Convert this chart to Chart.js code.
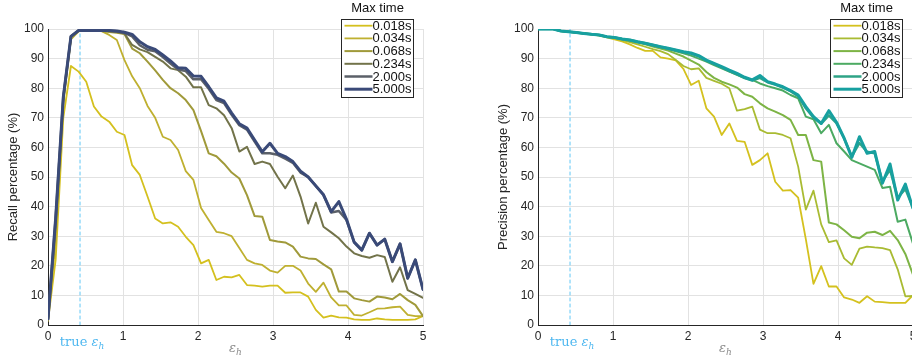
<!DOCTYPE html>
<html>
<head>
<meta charset="utf-8">
<script src="https://cdn.jsdelivr.net/npm/chart.js@4/dist/chart.umd.min.js"></script>
<style>
  html, body { margin: 0; padding: 0; background: #fff; overflow: hidden; }
  #wrap { position: relative; width: 912px; height: 362px; overflow: hidden; }
  canvas { position: absolute; top: 0; }
  #recallChart { left: 0; }
  #precisionChart { left: 490px; }
</style>
</head>
<body>
<div id="wrap">
  <canvas id="recallChart" width="460" height="362"></canvas>
  <canvas id="precisionChart" width="460" height="362"></canvas>
</div>
<script>
// eps_h sample positions (50 samples from 0 to 5)
const epsH = [0, 0.102, 0.204, 0.306, 0.408, 0.510, 0.612, 0.714, 0.816, 0.918,
  1.020, 1.122, 1.224, 1.327, 1.429, 1.531, 1.633, 1.735, 1.837, 1.939,
  2.041, 2.143, 2.245, 2.347, 2.449, 2.551, 2.653, 2.755, 2.857, 2.959,
  3.061, 3.163, 3.265, 3.367, 3.469, 3.571, 3.673, 3.776, 3.878, 3.980,
  4.082, 4.184, 4.286, 4.388, 4.490, 4.592, 4.694, 4.796, 4.898, 5.0];
const trueEps = 0.427;
const xTickValues = [0, 1, 2, 3, 4, 5];
const yTickValues = [0, 10, 20, 30, 40, 50, 60, 70, 80, 90, 100];
const maxTimes = ['0.018s', '0.034s', '0.068s', '0.234s', '2.000s', '5.000s'];

// recall (%)
const recall0018 = [1.5, 22, 70, 87.5, 85.6, 82.2, 73.8, 70.4, 68.7, 65.3,
  64.2, 54, 50.7, 43.4, 36, 34.3, 34.7, 33.2, 29.8, 27,
  20.8, 22, 15.2, 16.3, 16.1, 16.9, 13.5, 13.3, 13, 13.3,
  13.3, 10.9, 11, 11, 9.6, 5.1, 2.5, 3.2, 2.6, 2.5,
  1.9, 1.7, 1.7, 2.2, 1.9, 1.7, 1.7, 1.7, 1.9, 3];
const recall0034 = [1.5, 28, 75, 96.5, 99.2, 99.5, 99.5, 99.3, 98, 96.3,
  89.5, 84, 80, 74, 70, 63.6, 62.5, 59.1, 52, 49,
  39.5, 35.5, 31.5, 31, 30, 26, 22, 20.8, 20.3, 18.4,
  17.7, 20, 20, 18.4, 14, 11.2, 14.3, 9.3, 6.6, 6.6,
  3.4, 3.2, 4.3, 5.5, 5.6, 6, 6.2, 3.4, 3, 3];
const recall0068 = [2, 33, 76, 97, 99.3, 99.5, 99.5, 99.3, 99, 98.7,
  98.3, 93.4, 91.8, 89, 86, 82.8, 80, 78.3, 76, 72.6,
  65.5, 58, 57, 54.5, 51.5, 49.5, 43.9, 36.8, 36.6, 28.7,
  28.2, 27.9, 26.5, 23.1, 22.5, 22.3, 20.5, 18.8, 11.3, 11.3,
  9, 8.4, 7.9, 9.6, 9.3, 8.7, 10.5, 8.4, 6.8, 3];
const recall0234 = [2, 35, 77, 97.5, 99.5, 99.5, 99.5, 99.4, 99.2, 99,
  98.5, 94.6, 93.1, 92.2, 90.6, 89, 86.7, 86.1, 83.9, 80.3,
  80.3, 74.3, 73.2, 70.9, 66.5, 58.6, 60.2, 54.4, 55.2, 54.4,
  50.1, 46.2, 50.5, 43.4, 34.3, 41.3, 33.2, 31.3, 29.3, 26.5,
  24.2, 23.3, 22.7, 23.6, 23, 14.6, 19.5, 11.8, 10.5, 9.2];
const recall2000 = [2, 36, 77, 97.5, 99.5, 99.5, 99.5, 99.5, 99.4, 99.2,
  98.7, 97.5, 94.5, 93, 92.5, 90.5, 88.3, 86.3, 85.8, 83,
  83, 79.8, 76, 75, 71, 67.5, 66, 62, 58, 58,
  57.5, 56.2, 54.8, 51.5, 50, 47, 44, 38, 38.5, 35.5,
  28, 25.3, 31, 27, 29, 21.4, 27.4, 15.8, 22, 12];
const recall5000 = [2, 36, 77, 97.5, 99.5, 99.5, 99.5, 99.5, 99.5, 99.3,
  98.9, 98.2, 95.7, 94, 93.1, 91.2, 89.2, 86.9, 86.7, 84.1,
  84, 80.5, 76.7, 75.6, 71.6, 68, 66.5, 62.5, 58.5, 61.4,
  58, 56.9, 55.2, 52, 50, 47, 44, 38.3, 41.7, 35.7,
  28, 25.3, 31, 27, 29, 21.4, 27.4, 15.8, 22, 12];

// precision (%)
const precision0018 = [100, 100, 100, 99.3, 99.1, 98.8, 98.5, 98.2, 97.8, 97.2,
  96.5, 95.8, 94.8, 93.6, 92.6, 92.6, 90.4, 90, 89.4, 86.5,
  81.1, 82.5, 73.2, 70.4, 64.2, 68.1, 62.2, 61.9, 54.1, 55.7,
  58, 48.4, 45.4, 45.6, 43, 29, 13.9, 19.9, 13, 13,
  9.3, 8.6, 7.5, 9.7, 7.9, 7.7, 7.5, 7.5, 7.5, 10.1];
const precision0034 = [100, 100, 100, 99.3, 99.1, 98.8, 98.5, 98.2, 97.9, 97.3,
  96.9, 96.2, 95.6, 94.8, 94, 93.2, 92.5, 91.5, 89.5, 87.5,
  86.4, 86.7, 83.5, 82.5, 81.5, 80, 72.4, 72.9, 73.8, 66,
  64.8, 64.8, 64.2, 63.1, 53.5, 39, 45.4, 34, 28, 28.6,
  22.5, 20.3, 25.8, 26.5, 26.2, 26, 25.3, 18.8, 9.7, 9.8];
const precision0068 = [100, 100, 100, 99.3, 99.1, 98.8, 98.5, 98.2, 98, 97.4,
  97, 96.5, 96, 95.4, 94.8, 94.1, 93.4, 92.7, 91.7, 90.7,
  89.3, 88, 85.5, 83.5, 82.2, 81.3, 80.2, 78, 77.1, 74.9,
  73.2, 72.1, 70.9, 69.3, 64.2, 64.2, 55.7, 55.2, 34.6, 34,
  32, 29.8, 29.3, 31.2, 31.5, 30.4, 31.8, 28.7, 24, 17];
const precision0234 = [100, 100, 100, 99.3, 99.1, 98.8, 98.5, 98.2, 98, 97.4,
  97.1, 96.6, 96.2, 95.6, 95, 94.4, 93.8, 93.2, 92.5, 91.8,
  91, 90, 89, 87.8, 86.7, 85.6, 84.5, 83.5, 82.8, 81.6,
  80.7, 80, 79.2, 77.7, 76.6, 70.4, 69.5, 64.8, 67.6, 61.4,
  58.6, 55.7, 54.6, 53.5, 52.4, 46.3, 46.7, 34.9, 35.6, 27.5];
const precision2000 = [100, 100, 100, 99.3, 99.1, 98.8, 98.5, 98.2, 98, 97.4,
  97.1, 96.6, 96.3, 95.7, 95.2, 94.6, 94, 93.4, 92.8, 92.2,
  91.7, 90.8, 89.3, 88.2, 87, 85.8, 84.7, 83.4, 82.6, 83.5,
  82, 81.2, 80.2, 79, 77.3, 73.2, 70, 68, 70.8, 68.2,
  63, 57, 61.5, 58.5, 58, 48.5, 52.5, 43, 46, 39.5];
const precision5000 = [100, 100, 100, 99.3, 99.1, 98.8, 98.5, 98.2, 98, 97.4,
  97.1, 96.6, 96.3, 95.7, 95.2, 94.6, 94, 93.5, 92.9, 92.3,
  91.9, 91, 89.5, 88.4, 87.3, 86.1, 85, 83.7, 82.8, 84.3,
  82.2, 81.4, 80.5, 79.2, 77.7, 73.8, 70.4, 68.1, 72.4, 68.5,
  63.1, 56.6, 63.6, 58, 58.6, 47.9, 54.4, 42.2, 47.6, 39.4];

const recallColors = ['#d4c01e', '#bfb030', '#a09a3a', '#72734a', '#5b6068', '#3a4a78'];
const precisionColors = ['#d4c11e', '#a9bb32', '#7db445', '#4caa62', '#2ea386', '#17a0a0'];
const lineWidths = [1.8, 1.8, 2, 2, 2.5, 3];

const tickFont = { family: '"Liberation Sans", Arial, sans-serif', size: 12 };
const textColor = '#262626';

function buildDatasets(series, colors) {
  const sets = series.map(function(values, i) {
    return {
      label: maxTimes[i],
      data: epsH.map((x, j) => ({ x: x, y: values[j] })),
      borderColor: colors[i],
      borderWidth: lineWidths[i],
      order: series.length - i
    };
  });
  // dashed marker at the true eps_h
  sets.push({
    label: 'true',
    data: [{ x: trueEps, y: 0 }, { x: trueEps, y: 100 }],
    borderColor: '#62c8f6',
    borderWidth: 1,
    borderDash: [3, 3],
    order: 20
  });
  return sets;
}

// draws the epsilon with subscript h, centred on cx
function drawEps(ctx, prefix, cx, y, size, color) {
  const big = size + 'px "DejaVu Serif", serif';
  const bigIt = 'italic ' + size + 'px "DejaVu Serif", serif';
  const small = 'italic ' + Math.round(size * 0.72) + 'px "DejaVu Serif", serif';
  ctx.font = big; const w1 = prefix ? ctx.measureText(prefix).width : 0;
  ctx.font = bigIt; const w2 = ctx.measureText('\u03b5').width;
  ctx.font = small; const w3 = ctx.measureText('h').width;
  let x = cx - (w1 + w2 + w3) / 2;
  ctx.fillStyle = color;
  ctx.textAlign = 'left';
  ctx.textBaseline = 'alphabetic';
  if (prefix) { ctx.font = big; ctx.fillText(prefix, x, y); x += w1; }
  ctx.font = bigIt; ctx.fillText('\u03b5', x, y); x += w2;
  ctx.font = small; ctx.fillText('h', x, y + 3);
}

const extrasPlugin = {
  id: 'extras',
  afterDraw(chart, args, opts) {
    const ctx = chart.ctx;
    const area = chart.chartArea;
    const xs = chart.scales.x;
    ctx.save();
    // legend box
    const lx = opts.legendX, ly = 19.5, lw = 72, lh = 78;
    ctx.fillStyle = '#fff';
    ctx.fillRect(lx, ly, lw, lh);
    ctx.strokeStyle = textColor;
    ctx.lineWidth = 1;
    ctx.strokeRect(lx, ly, lw, lh);
    ctx.font = '13px "Liberation Sans", Arial, sans-serif';
    ctx.fillStyle = '#111';
    ctx.textAlign = 'center';
    ctx.textBaseline = 'middle';
    ctx.fillText('Max time', lx + lw / 2, 8.5);
    maxTimes.forEach(function(name, i) {
      const ds = chart.data.datasets[i];
      const y = 25.7 + i * 12.7;
      ctx.strokeStyle = ds.borderColor;
      ctx.lineWidth = ds.borderWidth;
      ctx.beginPath();
      ctx.moveTo(lx + 3, y);
      ctx.lineTo(lx + 31, y);
      ctx.stroke();
      ctx.fillStyle = '#111';
      ctx.textAlign = 'left';
      ctx.fillText(name, lx + 31, y + 0.5);
    });
    // axis labels under the x axis
    drawEps(ctx, '', (area.left + area.right) / 2, 352, 13, '#8a8a8a');
    drawEps(ctx, 'true ', xs.getPixelForValue(trueEps) + 2, 346, 13, '#4fb8f0');
    ctx.restore();
  }
};

function makeOptions(yTitle, legendX) {
  return {
    responsive: false,
    animation: false,
    devicePixelRatio: 1,
    layout: { padding: { left: 0, right: 37, top: 29, bottom: 0 } },
    plugins: {
      legend: { display: false },
      tooltip: { enabled: false },
      extras: { legendX: legendX }
    },
    elements: {
      point: { radius: 0 },
      line: { tension: 0, borderJoinStyle: 'round', borderCapStyle: 'round' }
    },
    scales: {
      x: {
        type: 'linear', min: 0, max: 5,
        afterBuildTicks: s => { s.ticks = xTickValues.map(v => ({ value: v })); },
        afterFit: s => { s.height = 37; },
        grid: { color: '#e2e2e2', drawTicks: false },
        border: { color: textColor, width: 1 },
        ticks: { padding: 4, color: textColor, font: tickFont, maxRotation: 0 }
      },
      y: {
        type: 'linear', min: 0, max: 100,
        afterBuildTicks: s => { s.ticks = yTickValues.map(v => ({ value: v })); },
        afterFit: s => { s.width = 48; },
        grid: { color: '#e2e2e2', drawTicks: false },
        border: { color: textColor, width: 1 },
        ticks: { padding: 4, color: textColor, font: tickFont },
        title: {
          display: true, text: yTitle, color: textColor,
          font: { family: '"Liberation Sans", Arial, sans-serif', size: 13 },
          padding: { top: 6, bottom: 0 }
        }
      }
    }
  };
}

new Chart(document.getElementById('recallChart'), {
  type: 'line',
  data: { datasets: buildDatasets([recall0018, recall0034, recall0068, recall0234, recall2000, recall5000], recallColors) },
  options: makeOptions('Recall percentage (%)', 341.5),
  plugins: [extrasPlugin]
});

new Chart(document.getElementById('precisionChart'), {
  type: 'line',
  data: { datasets: buildDatasets([precision0018, precision0034, precision0068, precision0234, precision2000, precision5000], precisionColors) },
  options: makeOptions('Precision percentage (%)', 340.5),
  plugins: [extrasPlugin]
});
</script>
</body>
</html>
